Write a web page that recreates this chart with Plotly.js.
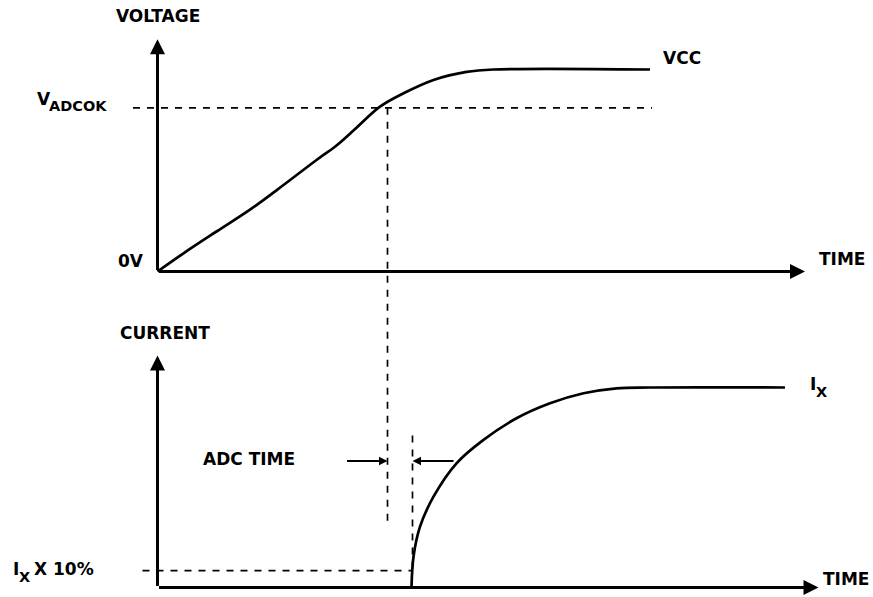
<!DOCTYPE html>
<html>
<head>
<meta charset="utf-8">
<script src="https://cdn.plot.ly/plotly-3.0.1.min.js"></script>
<style>html,body{margin:0;padding:0;background:#fff;}#chart{width:873px;height:597px;}</style>
</head>
<body>
<div id="chart"></div>
<script>
// ---- Data (diagram units: time t, voltage V with VCC = 5, current I with IX = 10) ----
const voltTime = [0, 0.52, 1.18, 1.85, 2.52, 3.18, 3.58, 3.98, 4.45, 4.92, 5.52, 6.18, 6.72, 9.85];
const voltValue = [0, 0.45, 0.99, 1.53, 2.14, 2.76, 3.12, 3.56, 4.08, 4.41, 4.74, 4.94, 5.0, 5.0];
const currTime = [5.08, 5.12, 5.25, 5.52, 5.98, 6.52, 7.18, 7.85, 8.52, 9.18, 9.85, 12.55];
const currValue = [0, 1.54, 3.04, 4.54, 6.21, 7.38, 8.46, 9.21, 9.71, 9.96, 10, 10];

const vAdcok = 4.05;          // V_ADCOK level
const vAdcokSpan = [-0.49, 9.89];
const tAdcStart = 4.6;        // time where V crosses V_ADCOK
const tAdcEnd = 5.1;          // end of ADC time (current starts)
const adcStartLowV = -6.32;   // bottom end of the first dashed marker (in V units)
const adcEndSpanI = [0.84, 7.6];
const iTenPct = 0.84;         // IX x 10% level
const iTenPctStartT = -0.3;
const adcArrowI = 6.33;
const adcArrowTails = [3.76, 5.95];

const vAxisTop = 5.75, vAxisRight = 12.95;
const iAxisTop = 11.6, iAxisRight = 13.22;

const labels = {
  voltage: 'VOLTAGE', v: 'V', adcok: 'ADCOK', vcc: 'VCC', zero: '0V', time: 'TIME',
  current: 'CURRENT', i: 'I', x: 'X', tenPct: 'X 10%', adc: 'ADC TIME'
};

// ---- Layout ----
const black = '#000000';
const F = (size) => ({family: 'DejaVu Sans, Arial, sans-serif', size: size, color: black, weight: 700});

const traces = [
  {x: voltTime, y: voltValue, xaxis: 'x', yaxis: 'y', mode: 'lines',
   line: {color: black, width: 2.7, shape: 'spline', smoothing: 1.0}, hoverinfo: 'skip'},
  {x: currTime, y: currValue, xaxis: 'x', yaxis: 'y2', mode: 'lines',
   line: {color: black, width: 2.7, shape: 'spline', smoothing: 1.0}, hoverinfo: 'skip'}
];

const dash = {color: black, width: 1.7, dash: '7px,7px'};
const shapes = [
  {type: 'line', xref: 'x', yref: 'y', x0: vAdcokSpan[0], x1: vAdcokSpan[1], y0: vAdcok, y1: vAdcok, line: dash},
  {type: 'line', xref: 'x', yref: 'y', x0: tAdcStart, x1: tAdcStart, y0: vAdcok, y1: adcStartLowV, line: dash},
  {type: 'line', xref: 'x', yref: 'y2', x0: tAdcEnd, x1: tAdcEnd, y0: adcEndSpanI[1], y1: adcEndSpanI[0], line: dash},
  {type: 'line', xref: 'x', yref: 'y2', x0: iTenPctStartT, x1: tAdcEnd, y0: iTenPct, y1: iTenPct, line: dash}
];

function arrow(xt, yt, xs, ys, yref, w, size) {
  return {x: xt, y: yt, ax: xs, ay: ys, xref: 'x', yref: yref, axref: 'x', ayref: yref,
    showarrow: true, arrowhead: 2, arrowwidth: w, arrowsize: size, arrowcolor: black,
    standoff: 0, startstandoff: 0, text: ''};
}
function label(text, x, y, yref, size, xanchor) {
  return {x: x, y: y, xref: 'x', yref: yref, text: text, showarrow: false,
    xanchor: xanchor || 'left', yanchor: 'middle', font: F(size)};
}

const annotations = [
  arrow(0, vAxisTop, 0, 0, 'y', 3, 1.0),
  arrow(vAxisRight, 0, 0, 0, 'y', 3, 1.0),
  arrow(0, iAxisTop, 0, 0, 'y2', 3, 1.0),
  arrow(iAxisRight, 0, 0, 0, 'y2', 3, 1.0),
  arrow(tAdcStart, adcArrowI, adcArrowTails[0], adcArrowI, 'y2', 2, 0.85),
  arrow(tAdcEnd, adcArrowI, adcArrowTails[1], adcArrowI, 'y2', 2, 0.85),

  label(labels.voltage, 0.01, 6.32, 'y', 17, 'center'),
  label(labels.v, -2.45, 4.27, 'y', 17),
  label(labels.adcok, -2.22, 4.1, 'y', 14.5),
  label(labels.vcc, 10.07, 5.28, 'y', 17),
  label(labels.zero, -0.83, 0.26, 'y', 17),
  label(labels.time, 14.19, 0.31, 'y', 17, 'right'),
  label(labels.current, 0.15, 12.72, 'y2', 17, 'center'),
  label(labels.i, 13.0, 10.2, 'y2', 17),
  label(labels.x, 13.12, 9.8, 'y2', 14.5),
  label(labels.adc, 0.86, 6.43, 'y2', 17),
  label(labels.i, -2.93, 0.93, 'y2', 17),
  label(labels.x, -2.81, 0.55, 'y2', 14.5),
  label(labels.tenPct, -2.52, 0.93, 'y2', 17),
  label(labels.time, 14.26, 0.43, 'y2', 17, 'right')
];

const layout = {
  width: 873, height: 597, autosize: false,
  margin: {l: 0, r: 0, t: 0, b: 0, pad: 0},
  paper_bgcolor: '#ffffff', plot_bgcolor: '#ffffff',
  showlegend: false,
  xaxis: {range: [-3.15, 14.31], visible: false, fixedrange: true},
  yaxis: {range: [-8.057, 6.720], visible: false, fixedrange: true},
  yaxis2: {range: [-0.475, 29.375], visible: false, overlaying: 'y', fixedrange: true},
  shapes: shapes,
  annotations: annotations
};

Plotly.newPlot('chart', traces, layout, {staticPlot: true, displayModeBar: false});
</script>
</body>
</html>
